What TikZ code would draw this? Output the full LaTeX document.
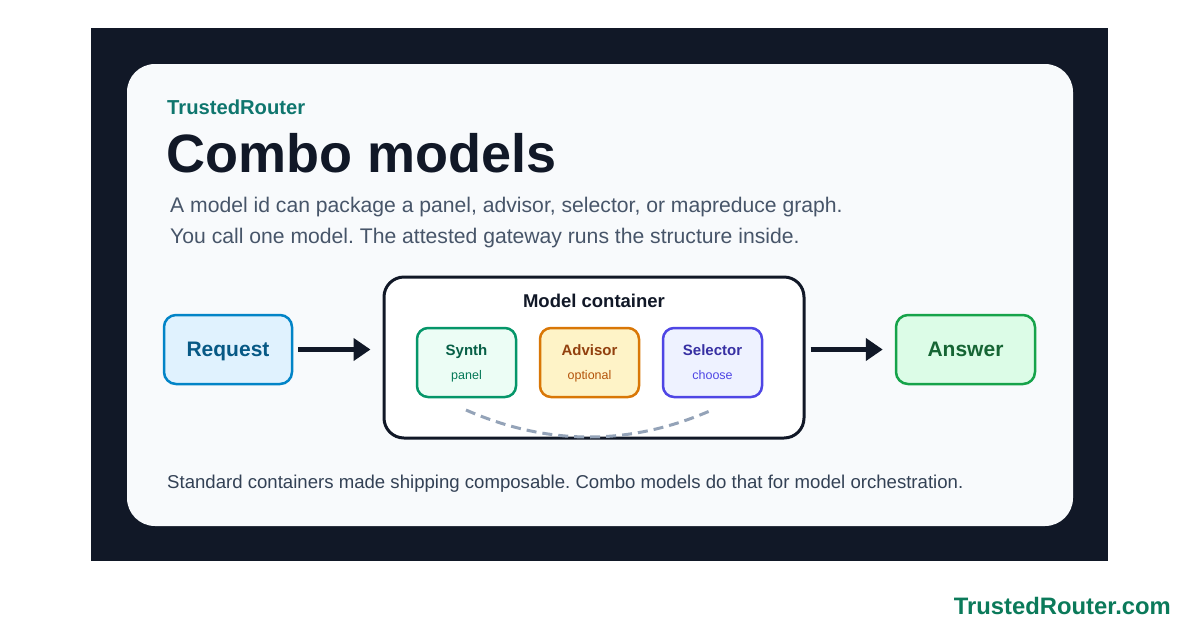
\documentclass[tikz,border=0pt]{standalone}
\usepackage{fontspec}
\setmainfont{Liberation Sans}
\usetikzlibrary{arrows.meta,calc}
\frenchspacing
\definecolor{navy}{HTML}{111827}
\definecolor{card}{HTML}{F8FAFC}
\definecolor{teal}{HTML}{0F766E}
\definecolor{slatesub}{HTML}{475569}
\definecolor{slatefoot}{HTML}{334155}
\definecolor{dashc}{HTML}{94A3B8}
\definecolor{reqd}{HTML}{0284C7}
\definecolor{reqf}{HTML}{E0F2FE}
\definecolor{reqt}{HTML}{075985}
\definecolor{syd}{HTML}{059669}
\definecolor{syf}{HTML}{ECFDF5}
\definecolor{syt}{HTML}{065F46}
\definecolor{sys}{HTML}{047857}
\definecolor{add}{HTML}{D97706}
\definecolor{adf}{HTML}{FEF3C7}
\definecolor{adt}{HTML}{92400E}
\definecolor{ads}{HTML}{B45309}
\definecolor{sed}{HTML}{4F46E5}
\definecolor{sef}{HTML}{EEF2FF}
\definecolor{set}{HTML}{3730A3}
\definecolor{ses}{HTML}{4F46E5}
\definecolor{and}{HTML}{16A34A}
\definecolor{anf}{HTML}{DCFCE7}
\definecolor{ant}{HTML}{166534}
\definecolor{urlc}{HTML}{0B7A5A}
\tikzset{
  x=1pt,y=-1pt,
  fs/.style={font=\fontsize{#1}{#1}\selectfont},
  io/.style={draw,line width=2.5pt,rounded corners=12pt,minimum width=#1,minimum height=69pt,inner sep=0pt},
  inbox/.style={draw,line width=2.5pt,rounded corners=11pt,minimum width=99pt,minimum height=69pt,inner sep=0pt},
  flow/.style={line width=4.5pt,draw=navy,-{Triangle[length=17pt,width=22pt]}},
}
\begin{document}
\begin{tikzpicture}
\useasboundingbox (0,0) rectangle (1200,630);
\fill[white] (0,0) rectangle (1200,630);
\fill[navy] (91,28) rectangle (1108,561);
\fill[card,rounded corners=28pt] (127,64) rectangle (1073,526);

\node[anchor=base west,inner sep=0pt,fs=20.2,text=teal] (brand) at (167,114) {\bfseries TrustedRouter};
\node[anchor=base west,inner sep=0pt,fs=54,text=navy] (title) at (166,172) {\bfseries Combo models};
\node[anchor=base west,inner sep=0pt,fs=21.15,text=slatesub] (sub1) at (170,212) {A model id can package a panel, advisor, selector, or mapreduce graph.};
\node[anchor=base west,inner sep=0pt,fs=21.15,text=slatesub] (sub2) at (170,243) {You call one model. The attested gateway runs the structure inside.};

\node[io=128pt,draw=reqd,fill=reqf] (req) at (228,349.5) {};
\node[anchor=base,inner sep=0pt,fs=21,text=reqt] (reqtx) at (228,356.5) {\bfseries Request};

\node[draw=navy,line width=3pt,fill=white,rounded corners=20pt,minimum width=420pt,minimum height=161pt,inner sep=0pt] (cont) at (594,357.5) {};
\node[anchor=base,inner sep=0pt,fs=18.5,text=navy] (contt) at (594,307) {\bfseries Model container};

\node[inbox,draw=syd,fill=syf] (synth) at (466.5,362.5) {};
\node[anchor=base,inner sep=0pt,fs=15,text=syt] (synthA) at (466.5,355) {\bfseries Synth};
\node[anchor=base,inner sep=0pt,fs=12.5,text=sys] (synthB) at (466.5,379) {panel};

\node[inbox,draw=add,fill=adf] (adv) at (589.5,362.5) {};
\node[anchor=base,inner sep=0pt,fs=15,text=adt] (advA) at (589.5,355) {\bfseries Advisor};
\node[anchor=base,inner sep=0pt,fs=12.5,text=ads] (advB) at (589.5,379) {optional};

\node[inbox,draw=sed,fill=sef] (sel) at (712.5,362.5) {};
\node[anchor=base,inner sep=0pt,fs=15,text=set] (selA) at (712.5,355) {\bfseries Selector};
\node[anchor=base,inner sep=0pt,fs=12.5,text=ses] (selB) at (712.5,379) {choose};

\coordinate (d1) at (466,410);
\coordinate (d2) at (712,410);
\draw[dashc,line width=3pt,dash pattern=on 10pt off 6pt] (d1) .. controls (548,446) and (630,446) .. (d2);

\node[io=139pt,draw=and,fill=anf] (ans) at (965.5,349.5) {};
\node[anchor=base,inner sep=0pt,fs=21,text=ant] (anstx) at (965.5,356.5) {\bfseries Answer};

\draw[flow] ($(req.east)+(5,0)$) -- ($(req.east -| cont.west)+(-12,0)$);
\draw[flow] ($(ans.west -| cont.east)+(5,0)$) -- ($(ans.west)+(-12,0)$);

\node[anchor=base west,inner sep=0pt,fs=18.6,text=slatefoot] (foot) at (167,488) {Standard containers made shipping composable. Combo models do that for model orchestration.};

\node[anchor=base east,inner sep=0pt,fs=23.8,text=urlc] (url) at (1171,614) {\bfseries TrustedRouter.com};
\end{tikzpicture}
\end{document}
